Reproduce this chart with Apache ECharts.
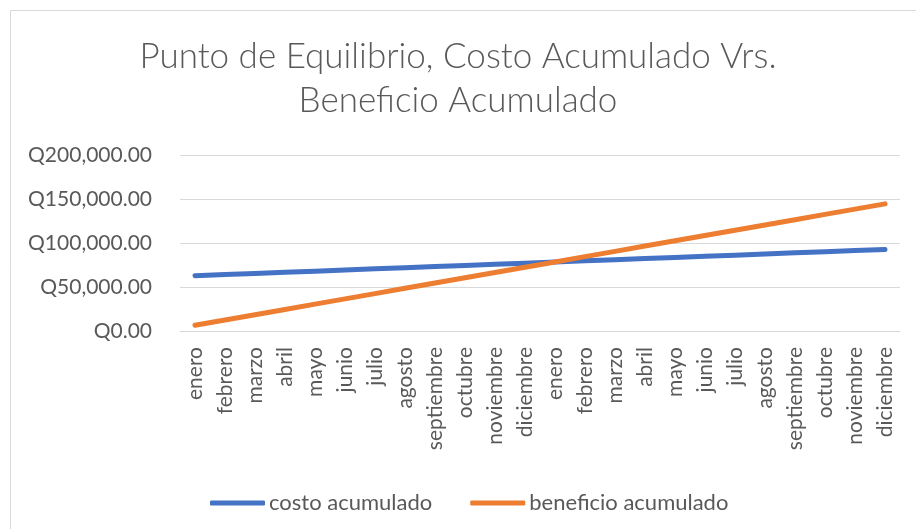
<!DOCTYPE html>
<html>
<head>
<meta charset="utf-8">
<script src="https://cdn.jsdelivr.net/npm/echarts@6/dist/echarts.min.js"></script>
<style>
  html, body { margin: 0; padding: 0; background: #fff; }
  #chart { width: 916px; height: 529px; }
</style>
</head>
<body>
<div id="chart"></div>
<script>
"use strict";
// months, two years in a row
const meses = ['enero', 'febrero', 'marzo', 'abril', 'mayo', 'junio', 'julio', 'agosto',
  'septiembre', 'octubre', 'noviembre', 'diciembre',
  'enero', 'febrero', 'marzo', 'abril', 'mayo', 'junio', 'julio', 'agosto',
  'septiembre', 'octubre', 'noviembre', 'diciembre'];

const costoAcumulado = [62800, 64100, 65400, 66700, 68000, 69300, 70600, 71900, 73200, 74500, 75800, 77100,
  78400, 79700, 81000, 82300, 83600, 84900, 86200, 87500, 88800, 90100, 91400, 92700];

const beneficioAcumulado = [6500, 12500, 18500, 24500, 30500, 36500, 42500, 48500, 54500, 60500, 66500, 72500,
  78500, 84500, 90500, 96500, 102500, 108500, 114500, 120500, 126500, 132500, 138500, 144500];

const yTicks = [0, 50000, 100000, 150000, 200000];

const FONT = 'Lato';
const TXT = '#595959';

const fmtQ = v => 'Q' + v.toLocaleString('en-US', { minimumFractionDigits: 2, maximumFractionDigits: 2 });

const myChart = echarts.init(document.getElementById('chart'));

const option = {
  animation: false,
  backgroundColor: '#fff',
  title: {
    text: 'Punto de Equilibrio, Costo Acumulado Vrs.\nBeneficio Acumulado',
    left: 'center',
    top: 30,
    textStyle: {
      fontFamily: FONT,
      fontWeight: 300,
      fontSize: 35,
      lineHeight: 44,
      color: TXT
    }
  },
  graphic: [{
    type: 'rect',
    shape: { x: 10.5, y: 10.5, width: 1000, height: 1000 },
    style: { fill: 'none', stroke: '#d9d9d9', lineWidth: 1 },
    silent: true
  }],
  legend: {
    left: 205,
    top: 487,
    itemGap: 38,
    itemWidth: 55,
    itemHeight: 5,
    icon: 'roundRect',
    textStyle: { fontFamily: FONT, fontSize: 22, color: TXT, padding: [0, 0, 0, -1] },
    data: ['costo acumulado', 'beneficio acumulado']
  },
  grid: { left: 180, right: 16, top: 155, height: 176 },
  xAxis: {
    type: 'category',
    data: meses,
    boundaryGap: true,
    axisLine: { lineStyle: { color: '#d9d9d9', width: 1 } },
    axisTick: { show: false },
    axisLabel: {
      rotate: 90,
      interval: 0,
      margin: 16,
      fontFamily: FONT,
      fontSize: 21,
      color: TXT
    }
  },
  yAxis: {
    type: 'value',
    min: yTicks[0],
    max: yTicks[yTicks.length - 1],
    interval: 50000,
    axisLine: { show: false },
    axisTick: { show: false },
    splitLine: { lineStyle: { color: '#d9d9d9', width: 1 } },
    axisLabel: {
      margin: 28,
      fontFamily: FONT,
      fontSize: 21,
      color: TXT,
      formatter: fmtQ
    }
  },
  series: [
    {
      name: 'costo acumulado',
      type: 'line',
      data: costoAcumulado,
      symbol: 'none',
      color: '#4472C4',
      lineStyle: { width: 5, cap: 'round', color: '#4472C4' }
    },
    {
      name: 'beneficio acumulado',
      type: 'line',
      data: beneficioAcumulado,
      symbol: 'none',
      color: '#ED7D31',
      lineStyle: { width: 5, cap: 'round', color: '#ED7D31' }
    }
  ]
};

myChart.setOption(option);
</script>
</body>
</html>
